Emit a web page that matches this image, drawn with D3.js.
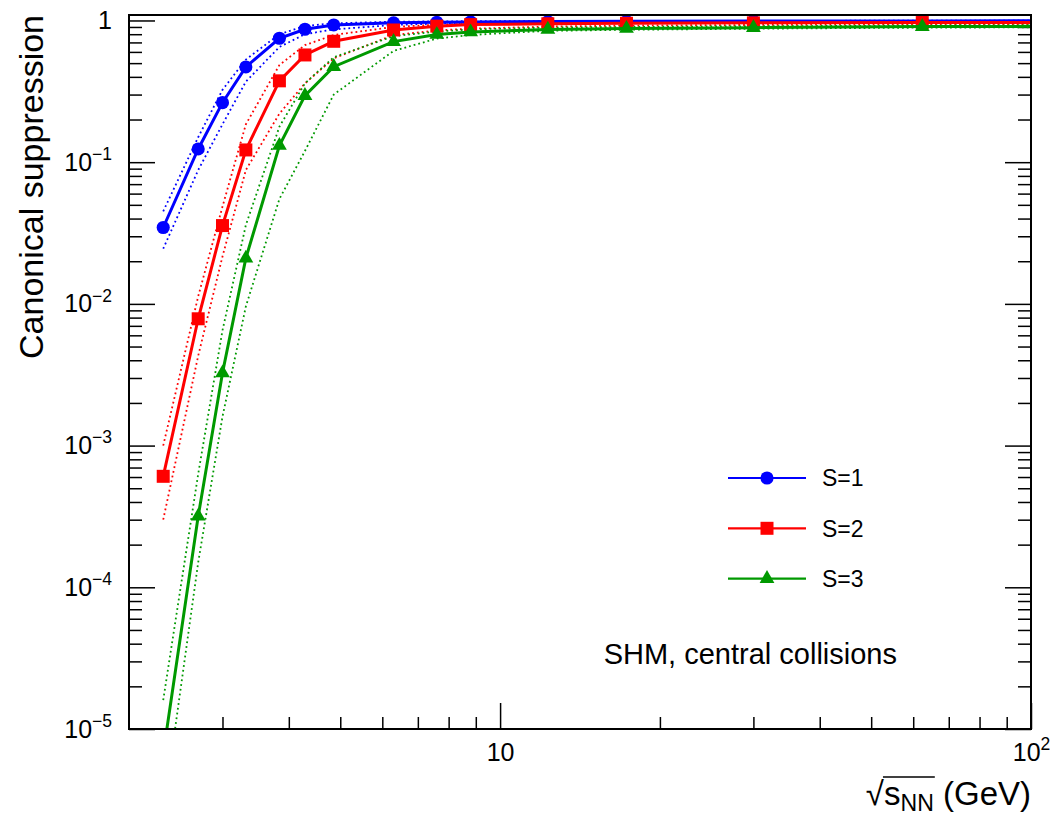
<!DOCTYPE html>
<html>
<head>
<meta charset="utf-8">
<script src="https://cdn.jsdelivr.net/npm/d3@7"></script>
<style>
  body { margin: 0; background: #fff; }
  svg text { font-family: "Liberation Sans", Arial, Helvetica, sans-serif; fill: #000; }
</style>
</head>
<body>
<svg id="chart" width="1051" height="821"></svg>
<script>
// sqrt(s_NN) in GeV (last one lies past the frame, only the line reaches the edge)
var energies = [2.32, 2.7, 3.0, 3.32, 3.84, 4.29, 4.86, 6.3, 7.6, 8.8, 12.3, 17.3, 30, 62.4, 200];

// canonical suppression, S=1
var s1   = [0.0346, 0.124, 0.263, 0.47, 0.749, 0.867, 0.93, 0.962, 0.972, 0.977, 0.982, 0.986, 0.99, 0.993, 0.996];
var s1Hi = [0.045, 0.15, 0.324, 0.53, 0.80, 0.915, 0.955, 0.98, 0.985, 0.988, 0.99, 0.992, 0.994, 0.996, 0.998];
var s1Lo = [0.0245, 0.088, 0.185, 0.37, 0.65, 0.80, 0.865, 0.93, 0.95, 0.96, 0.97, 0.975, 0.98, 0.985, 0.99];
// S=2
var s2   = [6.07e-4, 7.85e-3, 0.0357, 0.122, 0.375, 0.571, 0.713, 0.857, 0.912, 0.935, 0.948, 0.955, 0.962, 0.967, 0.972];
var s2Hi = [1.0e-3, 0.0113, 0.0486, 0.185, 0.485, 0.67, 0.79, 0.90, 0.935, 0.948, 0.96, 0.965, 0.97, 0.974, 0.978];
var s2Lo = [3.0e-4, 4.3e-3, 0.0216, 0.088, 0.22, 0.36, 0.54, 0.79, 0.85, 0.875, 0.905, 0.92, 0.93, 0.94, 0.948];
// S=3
var s3   = [6.7e-6, 3.17e-4, 3.25e-3, 0.021, 0.131, 0.295, 0.472, 0.709, 0.795, 0.83, 0.865, 0.877, 0.89, 0.905, 0.915];
var s3Hi = [1.6e-5, 6.3e-4, 6.5e-3, 0.036, 0.178, 0.36, 0.55, 0.775, 0.835, 0.865, 0.89, 0.9, 0.91, 0.92, 0.93];
var s3Lo = [2.5e-6, 1.5e-4, 1.6e-3, 0.0096, 0.055, 0.12, 0.30, 0.61, 0.745, 0.79, 0.845, 0.86, 0.875, 0.89, 0.9];

var legendLabels = ["S=1", "S=2", "S=3"];
var yMajorTicks = [1e-5, 1e-4, 1e-3, 1e-2, 1e-1, 1];
var xMajorTicks = [10, 100];
var xMinorTicks = [3, 4, 5, 6, 7, 8, 9, 20, 30, 40, 50, 60, 70, 80, 90];
var noteText = "SHM, central collisions";

var colors = ["#0000ff", "#ff0000", "#009900"];
var symbols = [d3.symbolCircle, d3.symbolSquare, d3.symbolTriangle];
var symbolSizes = [135, 169, 95];

var svg = d3.select("#chart"),
    margin = {top: 15, right: 20, bottom: 92, left: 129},
    width = +svg.attr("width") - margin.left - margin.right,
    height = +svg.attr("height") - margin.top - margin.bottom,
    g = svg.append("g").attr("transform", "translate(" + margin.left + "," + margin.top + ")");

var x = d3.scaleLog().domain([2, 100]).range([0, width]);
var y = d3.scaleLog().domain([1e-5, 1.093]).range([height, 0]);

// minor ticks of y: 2..9 in every decade
var yMinorTicks = [];
yMajorTicks.slice(0, -1).forEach(function(d) {
  for (var k = 2; k <= 9; k++) yMinorTicks.push(d * k);
});

function supLabel(sel) {
  sel.each(function(d) {
    var t = d3.select(this).text(null);
    var e = Math.round(Math.log10(d));
    if (e === 0) { t.text("1"); return; }
    t.append("tspan").text("10");
    if (e === 1) return;
    t.append("tspan")
      .attr("font-size", "0.7em")
      .attr("dy", "-0.62em")
      .text(e < 0 ? "\u2212" + (-e) : String(e));
  });
}

// axes (ticks point inward, like the original)
g.append("g").attr("class", "axis y-minor")
    .call(d3.axisLeft(y).tickValues(yMinorTicks).tickSize(-13).tickFormat(""));
g.append("g").attr("class", "axis y-major")
    .call(d3.axisLeft(y).tickValues(yMajorTicks).tickSize(-26).tickPadding(17))
  .selectAll("text")
    .attr("font-size", 25)
    .call(supLabel);
g.append("g").attr("class", "axis y-right")
    .attr("transform", "translate(" + width + ",0)")
    .call(d3.axisRight(y).tickValues(yMinorTicks).tickSize(-13).tickFormat(""));
g.append("g").attr("class", "axis y-right")
    .attr("transform", "translate(" + width + ",0)")
    .call(d3.axisRight(y).tickValues(yMajorTicks).tickSize(-26).tickFormat(""));
g.append("g").attr("class", "axis x-minor")
    .attr("transform", "translate(0," + height + ")")
    .call(d3.axisBottom(x).tickValues(xMinorTicks).tickSize(-12).tickFormat(""));
g.append("g").attr("class", "axis x-major")
    .attr("transform", "translate(0," + height + ")")
    .call(d3.axisBottom(x).tickValues(xMajorTicks).tickSize(-26).tickPadding(14))
  .selectAll("text")
    .attr("font-size", 25)
    .call(supLabel);

g.selectAll(".axis .domain").remove();
g.selectAll(".axis line").attr("stroke", "#000").attr("stroke-width", 1.5);
g.selectAll(".axis text").attr("fill", "#000");

g.append("defs").append("clipPath")
    .attr("id", "clip")
  .append("rect")
    .attr("width", width)
    .attr("height", height);

var line = d3.line()
    .x(function(d) { return x(d[0]); })
    .y(function(d) { return y(d[1]); });

var series = [
  {mid: s1, hi: s1Hi, lo: s1Lo},
  {mid: s2, hi: s2Hi, lo: s2Lo},
  {mid: s3, hi: s3Hi, lo: s3Lo}
];

var plot = g.append("g").attr("clip-path", "url(#clip)");

// dotted bands first
series.forEach(function(s, i) {
  [s.hi, s.lo].forEach(function(vals) {
    plot.append("path")
        .datum(d3.zip(energies, vals))
        .attr("fill", "none")
        .attr("stroke", colors[i])
        .attr("stroke-width", 1.8)
        .attr("stroke-dasharray", "1.8,3")
        .attr("d", line);
  });
});

// solid lines with markers
series.forEach(function(s, i) {
  var pts = d3.zip(energies, s.mid);
  plot.append("path")
      .datum(pts)
      .attr("fill", "none")
      .attr("stroke", colors[i])
      .attr("stroke-width", 3)
      .attr("d", line);
  plot.selectAll(".m" + i)
      .data(pts.filter(function(d) { return d[0] <= 100 && d[1] >= 1e-5; }))
    .enter().append("path")
      .attr("class", "m" + i)
      .attr("fill", colors[i])
      .attr("transform", function(d) { return "translate(" + x(d[0]) + "," + y(d[1]) + ")"; })
      .attr("d", d3.symbol().type(symbols[i]).size(symbolSizes[i]));
});

// frame
g.append("rect")
    .attr("width", width)
    .attr("height", height)
    .attr("fill", "none")
    .attr("stroke", "#000")
    .attr("stroke-width", 2);

// legend
var legend = svg.append("g").attr("transform", "translate(728,478)");
legendLabels.forEach(function(lab, i) {
  var row = legend.append("g").attr("transform", "translate(0," + (i * 50.3) + ")");
  row.append("line")
      .attr("x1", 0).attr("x2", 78)
      .attr("stroke", colors[i]).attr("stroke-width", 2.2);
  row.append("path")
      .attr("transform", "translate(39,0)")
      .attr("fill", colors[i])
      .attr("d", d3.symbol().type(symbols[i]).size(symbolSizes[i]));
  row.append("text")
      .attr("x", 94)
      .attr("dy", "0.36em")
      .attr("font-size", 23)
      .text(lab);
});

svg.append("text")
    .attr("x", 897)
    .attr("y", 664)
    .attr("text-anchor", "end")
    .attr("font-size", 29)
    .text(noteText);

// axis titles
svg.append("text")
    .attr("transform", "translate(43," + margin.top + ") rotate(-90)")
    .attr("text-anchor", "end")
    .attr("font-size", 34)
    .text("Canonical suppression");

var xt = svg.append("text")
    .attr("x", margin.left + width)
    .attr("y", 805)
    .attr("text-anchor", "end")
    .attr("font-size", 33);
xt.append("tspan").text("\u221A");
xt.append("tspan").text("s");
xt.append("tspan").attr("font-size", "0.7em").attr("dy", "0.25em").text("NN");
xt.append("tspan").attr("dy", "-0.175em").text(" (GeV)");

// bar of the square root over s_NN
var node = xt.node();
var r0 = node.getExtentOfChar(0);
var r3 = node.getEndPositionOfChar(3);
svg.append("line")
    .attr("x1", r0.x + r0.width - 1)
    .attr("x2", r3.x + 1)
    .attr("y1", r0.y + 2)
    .attr("y2", r0.y + 2)
    .attr("stroke", "#000")
    .attr("stroke-width", 1.6);
</script>
</body>
</html>
